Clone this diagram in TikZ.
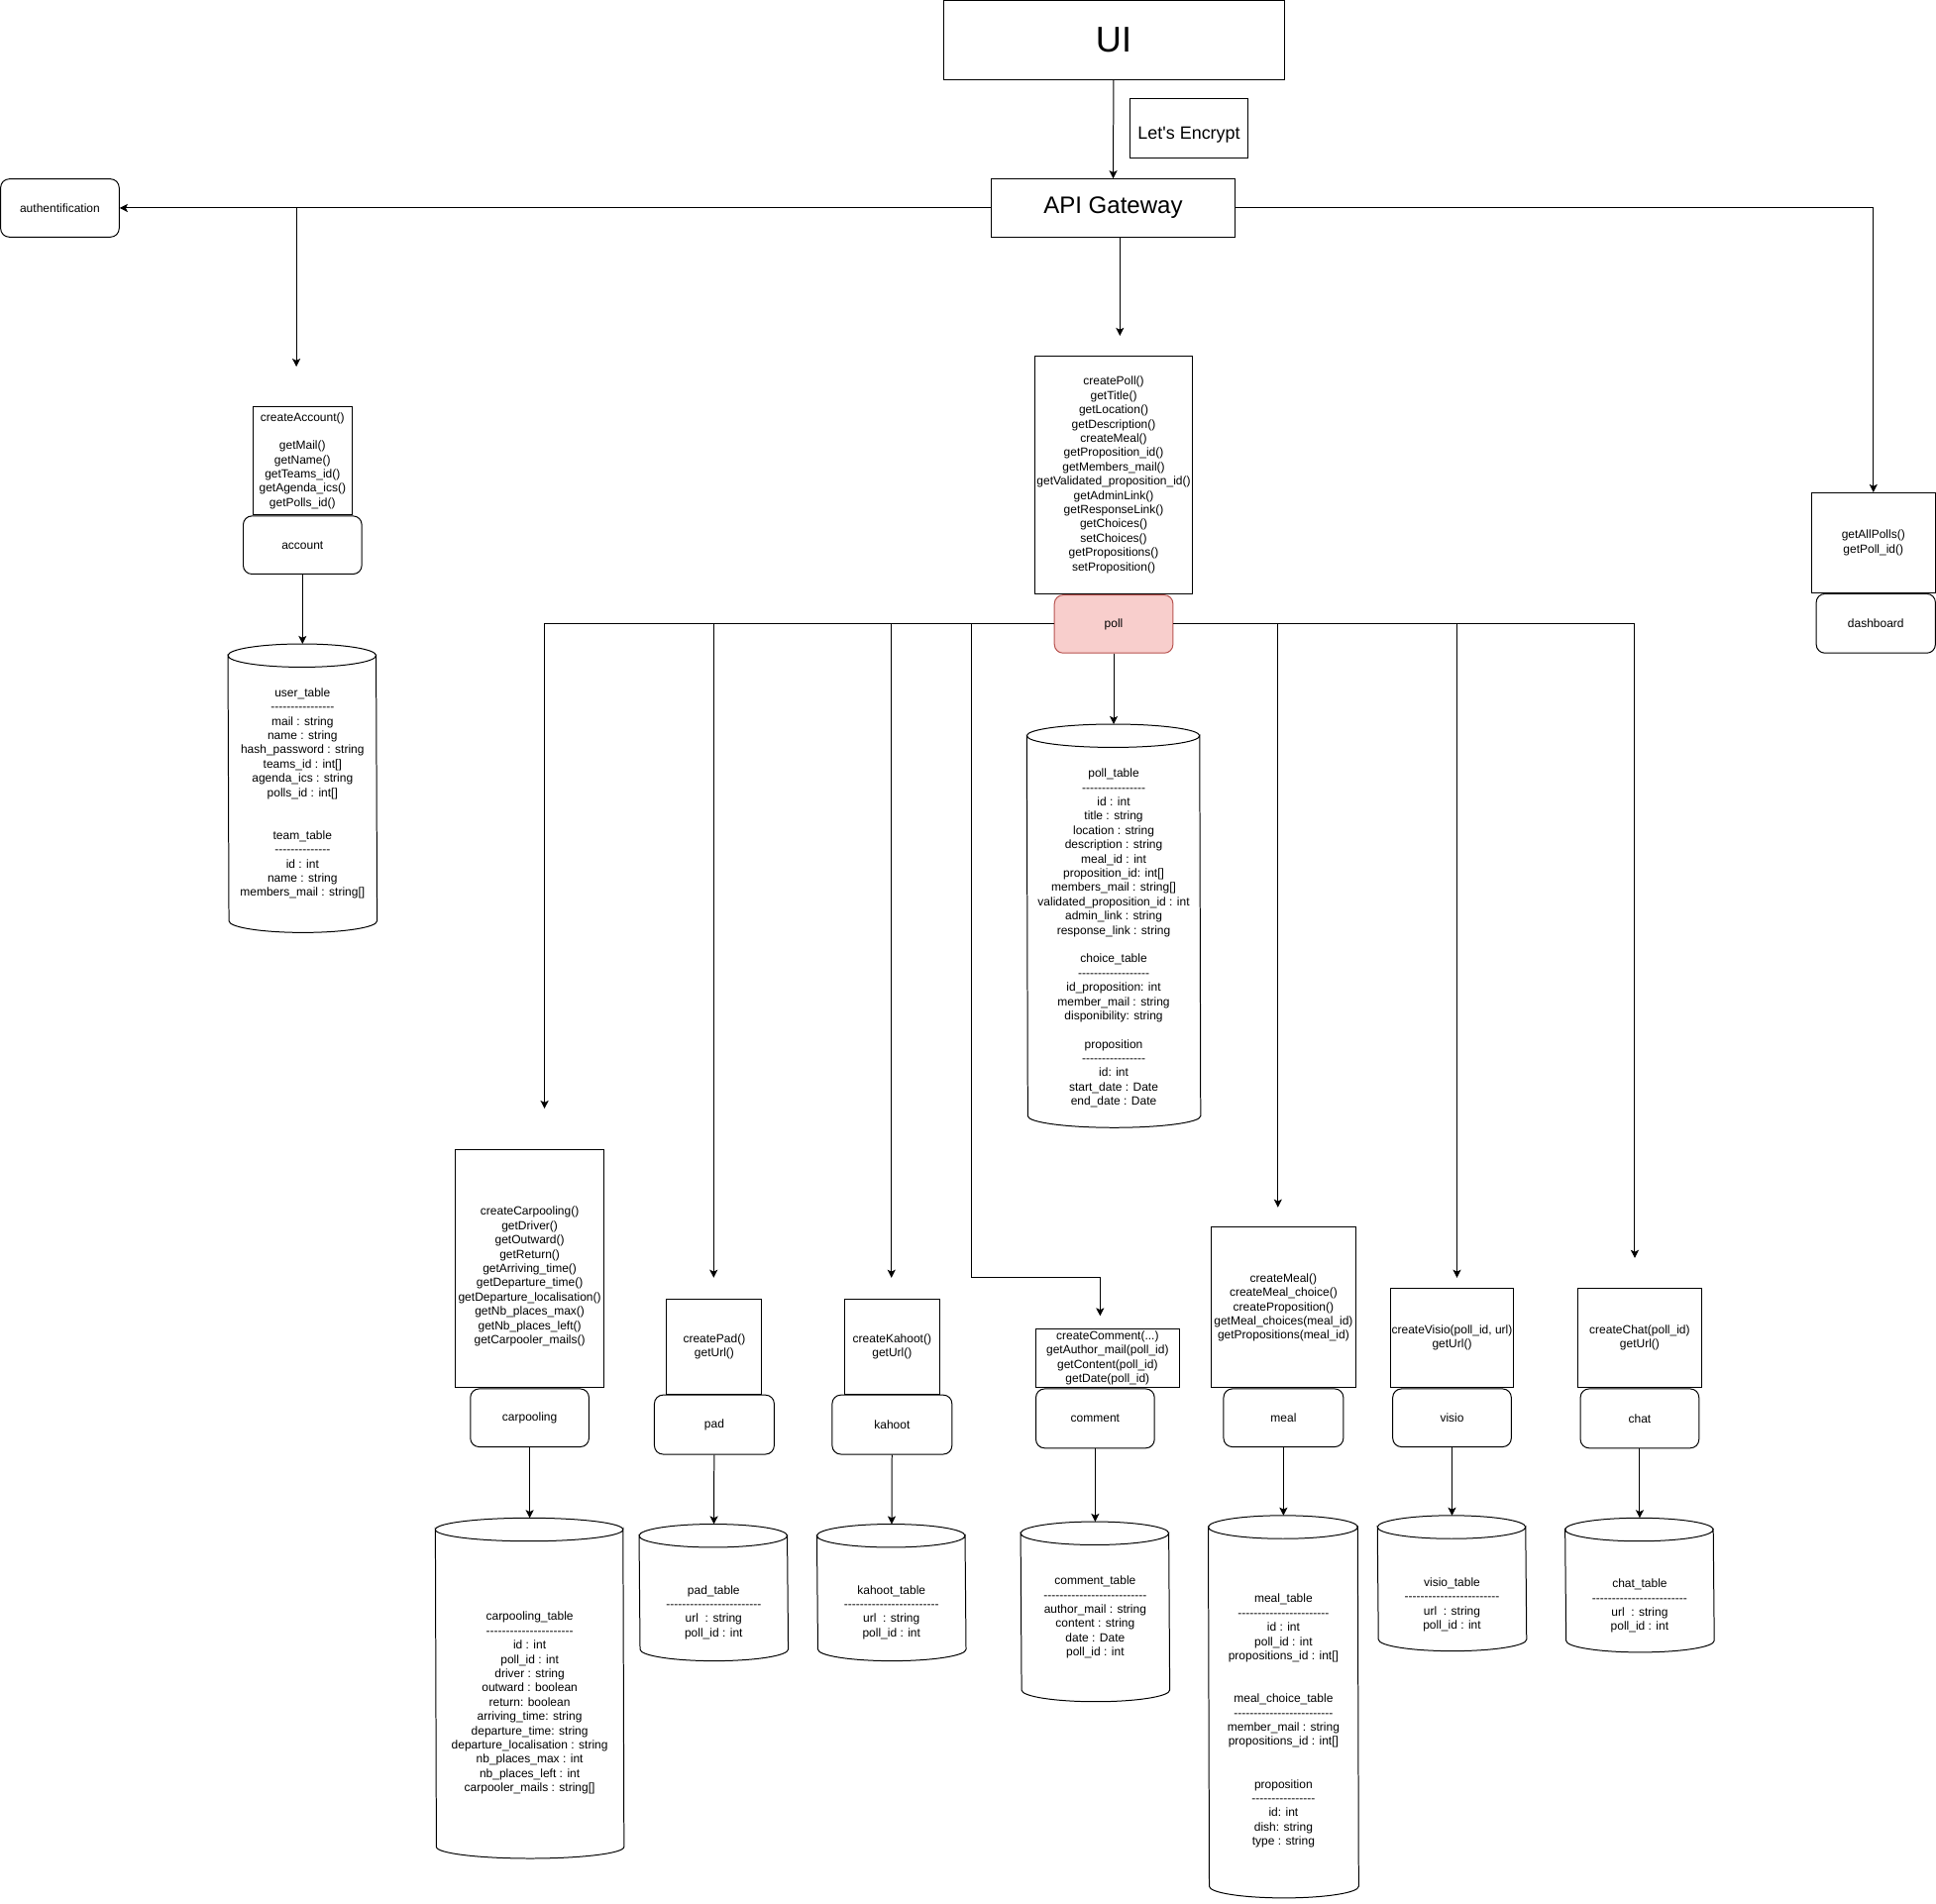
\documentclass[tikz,border=0pt]{standalone}
\usepackage{fontspec}
\setmainfont{Liberation Sans}[Ligatures=TeXOff]
\usepackage{xcolor}
\usepackage{tikz}
\usetikzlibrary{shapes.geometric, arrows.meta, positioning}
\definecolor{pollfill}{HTML}{F8CECC}
\definecolor{polldraw}{HTML}{B85450}
\tikzstyle{service} = [rectangle, rounded corners=7pt, minimum width=96, minimum height=47, text centered, draw=black, fill=white]
\tikzstyle{methods} = [rectangle, align=center, inner sep=0pt, draw=black, fill=white]
\tikzstyle{database} = [rectangle, inner sep=0pt]
\tikzstyle{fields} = [align=center, inner sep=0pt]
\tikzstyle{arrow} = [->,>={Stealth[length=6.5pt,width=6.5pt,inset=1.5pt]}]

% cylinder outline round a database node: #1 node, #2 half width in pt
\newcommand{\dbdraw}[2]{%
    \draw [fill=white] ([yshift=-9.4pt]#1.north west) arc[start angle=180, end angle=360, x radius=#2pt, y radius=9.4pt]
        -- ([yshift=9.4pt]#1.south east) arc[start angle=0, end angle=-180, x radius=#2pt, y radius=9.4pt] -- cycle;
    \draw ([yshift=-9.4pt]#1.north west) arc[start angle=180, end angle=0, x radius=#2pt, y radius=9.4pt];
}

\begin{document}
\begin{tikzpicture}[x=1pt, y=-1pt, node distance=0pt, line width=0.8pt, font=\fontsize{9.63}{11.55}\selectfont]

        \useasboundingbox[fill=white] (0,0) rectangle (1568,1541.6);

        % Nodes
        \node (ui) [rectangle, draw=black, minimum width=276, minimum height=64, font=\fontsize{29}{34}\selectfont] at (902,32.5) {UI};
        \node (encrypt) [rectangle, draw=black, minimum width=96, minimum height=48, text height=20.5pt, text depth=3pt, font=\fontsize{14.4}{17}\selectfont] at (963,104) {Let's Encrypt};
        \node (api) [rectangle, draw=black, minimum width=197, minimum height=47, font=\fontsize{19.3}{23}\selectfont] at (901.5,168.5) {API Gateway};
        \node (auth) [service] at (48.5,168.5) {authentification};

        \node (account) [service] at (245,441.5) {account};
        \node (accountm) [methods, minimum width=80, minimum height=88, above=of account] {createAccount()\\ \strut\\ getMail()\\ getName()\\ getTeams\_id()\\ getAgenda\_ics()\\ getPolls\_id()};
        \node (usertable) [database, minimum width=120, minimum height=233] at (245,638.5) {};
        \dbdraw{usertable}{60}
        \node (usertext) [fields] at (245,642.8) {user\_table\\ ----------------\\ mail : string\\ name : string\\ hash\_password : string\\ teams\_id : int[]\\ agenda\_ics : string\\ polls\_id : int[]\\ \strut\\ \strut\\ team\_table\\ --------------\\ id : int\\ name : string\\ members\_mail : string[]};

        \node (poll) [service, fill=pollfill, draw=polldraw] at (902,505.5) {poll};
        \node (pollm) [methods, minimum width=128, minimum height=193, above=of poll] {createPoll()\\ getTitle()\\ getLocation()\\ getDescription()\\ createMeal()\\ getProposition\_id()\\ getMembers\_mail()\\ getValidated\_proposition\_id()\\ getAdminLink()\\ getResponseLink()\\ getChoices()\\ setChoices()\\ getPropositions()\\ setProposition()};
        \node (polltable) [database, minimum width=140, minimum height=326] at (902,750) {};
        \dbdraw{polltable}{70}
        \node (polltext) [fields] at (902,760) {poll\_table\\ ----------------\\ id : int\\ title : string\\ location : string\\ description : string\\ meal\_id : int\\ proposition\_id: int[]\\ members\_mail : string[]\\ validated\_proposition\_id : int\\ admin\_link : string\\ response\_link : string\\ \strut\\ choice\_table\\ ------------------\\ id\_proposition: int\\ member\_mail : string\\ disponibility: string\\ \strut\\ proposition\\ ----------------\\ id: int\\ start\_date : Date\\ end\_date : Date};

        \node (dashboard) [service, minimum width=96.5, minimum height=48] at (1519.25,505) {dashboard};
        \node (dashm) [methods, minimum width=100.5, minimum height=81, anchor=south east] at (dashboard.north east) {getAllPolls()\\ getPoll\_id()};

        \node (carpooling) [service] at (429,1148.5) {carpooling};
        \node (carpm) [methods, minimum width=120, minimum height=193, above=of carpooling] {\strut\\ createCarpooling()\\ getDriver()\\ getOutward()\\ getReturn()\\ getArriving\_time()\\ getDeparture\_time()\\ getDeparture\_localisation()\\ getNb\_places\_max()\\ getNb\_places\_left()\\ getCarpooler\_mails()};
        \node (carptable) [database, minimum width=152, minimum height=275] at (429,1367.5) {};
        \dbdraw{carptable}{76}
        \node (carptext) [fields] at (429,1379.5) {carpooling\_table\\ ----------------------\\ id : int\\ poll\_id : int\\ driver : string\\ outward : boolean\\ return: boolean\\ arriving\_time: string\\ departure\_time: string\\ departure\_localisation : string\\ nb\_places\_max : int\\ nb\_places\_left : int\\ carpooler\_mails : string[]};

        \node (pad) [service, minimum width=97, minimum height=48] at (578.5,1154) {pad};
        \node (padm) [methods, minimum width=77, minimum height=77, above=of pad] {createPad()\\ getUrl()};
        \node (padtable) [database, minimum width=120, minimum height=110] at (578,1290) {};
        \dbdraw{padtable}{60}
        \node (padtext) [fields] at (578,1306) {pad\_table\\ ------------------------\\ url~~: string\\ poll\_id : int};

        \node (kahoot) [service, minimum width=97, minimum height=48] at (722.5,1154) {kahoot};
        \node (kahootm) [methods, minimum width=77, minimum height=77, above=of kahoot] {createKahoot()\\ getUrl()};
        \node (kahoottable) [database, minimum width=120, minimum height=110] at (722,1290) {};
        \dbdraw{kahoottable}{60}
        \node (kahoottext) [fields] at (722,1306) {kahoot\_table\\ ------------------------\\ url~~: string\\ poll\_id : int};

        \node (comment) [service, minimum height=48] at (887,1149) {comment};
        \node (commentm) [methods, minimum width=116, minimum height=48, anchor=south west] at (comment.north west) {createComment(...)\\ getAuthor\_mail(poll\_id)\\ getContent(poll\_id)\\ getDate(poll\_id)};
        \node (commenttable) [database, minimum width=120, minimum height=145] at (887,1305.5) {};
        \dbdraw{commenttable}{60}
        \node (commenttext) [fields] at (887,1310) {comment\_table\\ --------------------------\\ author\_mail : string\\ content : string\\ date : Date\\ poll\_id : int};

        \node (meal) [service, minimum width=97] at (1039.5,1148.5) {meal};
        \node (mealm) [methods, minimum width=117, minimum height=130, above=of meal] {createMeal()\\ createMeal\_choice()\\ createProposition()\\ getMeal\_choices(meal\_id)\\ getPropositions(meal\_id)};
        \node (mealtable) [database, minimum width=121, minimum height=309] at (1039.5,1382.5) {};
        \dbdraw{mealtable}{60.5}
        \node (mealtext) [fields] at (1039.5,1394) {meal\_table\\ -----------------------\\ id : int\\ poll\_id : int\\ propositions\_id : int[]\\ \strut\\ \strut\\ meal\_choice\_table\\ -------------------------\\ member\_mail : string\\ propositions\_id : int[]\\ \strut\\ \strut\\ proposition\\ ----------------\\ id: int\\ dish: string\\ type : string};

        \node (visio) [service] at (1176,1148.5) {visio};
        \node (visiom) [methods, minimum width=100, minimum height=81, above=of visio] {createVisio(poll\_id, url)\\ getUrl()};
        \node (visiotable) [database, minimum width=120, minimum height=109] at (1176,1282.5) {};
        \dbdraw{visiotable}{60}
        \node (visiotext) [fields] at (1176,1300) {visio\_table\\ ------------------------\\ url~~: string\\ poll\_id : int};

        \node (chat) [service, minimum height=48] at (1328,1149) {chat};
        \node (chatm) [methods, minimum width=101, minimum height=81, above=of chat] {createChat(poll\_id)\\ getUrl()};
        \node (chattable) [database, minimum width=120, minimum height=108] at (1328,1284) {};
        \dbdraw{chattable}{60}
        \node (chattext) [fields] at (1328,1301) {chat\_table\\ ------------------------\\ url~~: string\\ poll\_id : int};

        % Free ends
        \coordinate (authsplit) at (240,168.5);
        \coordinate (accountin) at (240,297);
        \coordinate (pollin) at (907,272);
        \coordinate (carpin) at (441,898);
        \coordinate (padin) at (578,1035);
        \coordinate (kahootin) at (722,1035);
        \coordinate (commentbend) at (787,1035);
        \coordinate (commentin) at (891,1066);
        \coordinate (mealin) at (1035,978);
        \coordinate (visioin) at (1180,1035);
        \coordinate (chatin) at (1324,1019);

        % Arrows
        \draw [arrow] (ui) -- (api);
        \draw [arrow] (api) -- (auth);
        \draw [arrow] (authsplit) -- (accountin);
        \draw [arrow] (api.east) -| (dashm.north);
        \draw [arrow] (api.south -| pollin) -- (pollin);
        \draw [arrow] (account) -- (usertable);
        \draw [arrow] (poll) -- (polltable);
        \draw [arrow] (poll.west) -| (carpin);
        \draw [arrow] (poll.west) -| (padin);
        \draw [arrow] (poll.west) -| (kahootin);
        \draw [arrow] (poll.west) -| (commentbend) -| (commentin);
        \draw [arrow] (poll.east) -| (mealin);
        \draw [arrow] (poll.east) -| (visioin);
        \draw [arrow] (poll.east) -| (chatin);
        \draw [arrow] (carpooling) -- (carptable);
        \draw [arrow] (pad) -- (padtable);
        \draw [arrow] (kahoot) -- (kahoottable);
        \draw [arrow] (comment) -- (commenttable);
        \draw [arrow] (meal) -- (mealtable);
        \draw [arrow] (visio) -- (visiotable);
        \draw [arrow] (chat) -- (chattable);

\end{tikzpicture}
\end{document}
